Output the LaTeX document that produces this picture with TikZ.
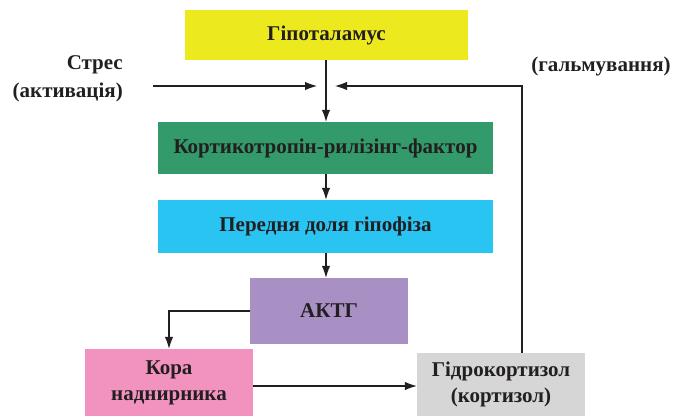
\documentclass[tikz,border=0pt]{standalone}
\usepackage{fontspec}
\setmainfont{Liberation Serif}
\usepackage{tikz}
\usetikzlibrary{arrows.meta,positioning}
\definecolor{ink}{HTML}{231F20}
\definecolor{hypo}{HTML}{EDE91F}
\definecolor{crf}{HTML}{339A6B}
\definecolor{hyph}{HTML}{29C4F2}
\definecolor{acth}{HTML}{A990C4}
\definecolor{cortex}{HTML}{F293BF}
\definecolor{cort}{HTML}{D5D6D5}
\tikzset{
  box/.style={draw=none,align=center,font=\fontsize{21}{26}\selectfont\bfseries,text=ink,inner sep=0pt},
  lab/.style={font=\fontsize{21}{28}\selectfont\bfseries,text=ink,inner sep=0pt},
  arr/.style={-{Latex[length=12pt,width=8.5pt]},draw=ink,line width=1.1pt},
}
\begin{document}
\begin{tikzpicture}[x=1pt,y=-1pt]
  \useasboundingbox (0,0) rectangle (678,416);
  \node[box,fill=hypo,minimum width=283pt,minimum height=50pt] (hypoth) at (326.5,35) {Гіпоталамус};
  \node[box,fill=crf,minimum width=335pt,minimum height=52pt] (crfac) at (325.5,148) {Кортикотропін-рилізінг-фактор};
  \node[box,fill=hyph,minimum width=335pt,minimum height=53pt] (pitu) at (325.5,226.5) {Передня доля гіпофіза};
  \node[box,fill=acth,minimum width=158pt,minimum height=66pt] (actg) at (329,311) {АКТГ};
  \node[box,fill=cortex,minimum width=168pt,minimum height=67pt] (adrenal) at (169,382.5) {Кора\\наднирника};
  \node[box,fill=cort,minimum width=168pt,minimum height=63pt] (cortisol) at (501,384.5) {Гідрокортизол\\(кортизол)};
  \node[lab,align=right,anchor=east] (stress) at (123,79) {Стрес\\(активація)};
  \node[lab] (inhib) at (601,66) {(гальмування)};
  \coordinate (stressend) at (153,86);
  \coordinate (join) at (326,86);
  \draw[arr] (hypoth.south -| join) -- (crfac.north -| join);
  \draw[arr] (stressend) -- ([xshift=-9pt]join);
  \draw[arr] (cortisol.north -| 522,0) |- ([xshift=9pt]join);
  \draw[arr] (crfac.south -| join) -- (pitu.north -| join);
  \draw[arr] (pitu.south -| join) -- (actg.north -| join);
  \draw[arr] (actg.west) -| (adrenal.north);
  \draw[arr] (adrenal.east |- 0,386) -- (cortisol.west |- 0,386);
\end{tikzpicture}
\end{document}
